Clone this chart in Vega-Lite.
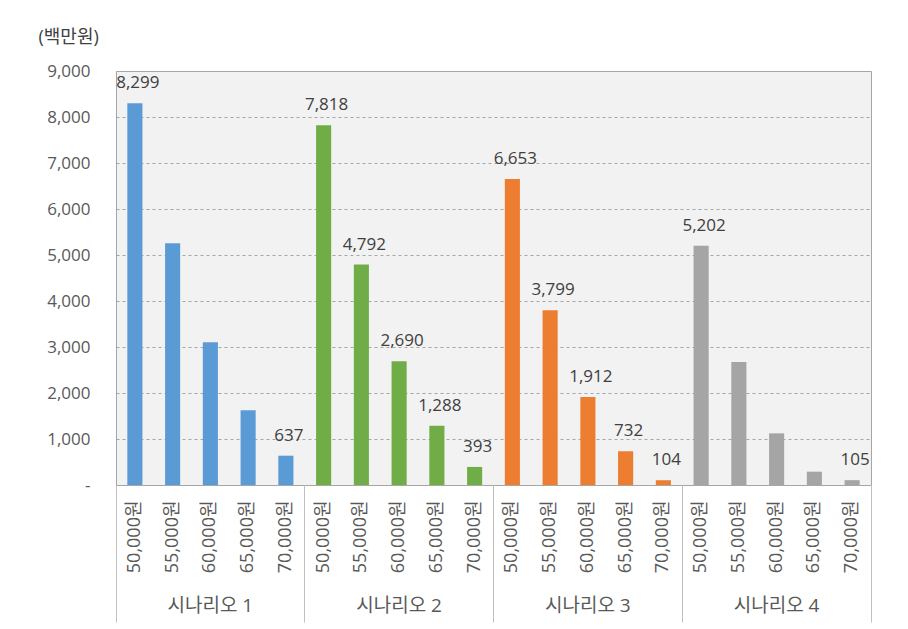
{
  "$schema": "https://vega.github.io/schema/vega-lite/v6.json",
  "width": 755,
  "height": 414,
  "autosize": {"type": "none"},
  "padding": {"left": 116, "top": 71, "right": 37, "bottom": 144},
  "background": "white",
  "config": {
    "view": {"fill": "#f2f2f2", "stroke": "#a6a6a6", "strokeWidth": 1},
    "font": "Open Sans, Noto Sans CJK KR",
    "axis": {"labelFont": "Open Sans, Noto Sans CJK KR", "titleFont": "Open Sans, Noto Sans CJK KR", "labelColor": "#595959"},
    "text": {"font": "Open Sans, Noto Sans CJK KR"}
  },
  "data": {
    "values": [
      {"scenario": "시나리오 1", "key": "시나리오 1|50,000원", "value": 8299, "labeled": true},
      {"scenario": "시나리오 1", "key": "시나리오 1|55,000원", "value": 5254, "labeled": false},
      {"scenario": "시나리오 1", "key": "시나리오 1|60,000원", "value": 3102, "labeled": false},
      {"scenario": "시나리오 1", "key": "시나리오 1|65,000원", "value": 1623, "labeled": false},
      {"scenario": "시나리오 1", "key": "시나리오 1|70,000원", "value": 637, "labeled": true},
      {"scenario": "시나리오 2", "key": "시나리오 2|50,000원", "value": 7818, "labeled": true},
      {"scenario": "시나리오 2", "key": "시나리오 2|55,000원", "value": 4792, "labeled": true},
      {"scenario": "시나리오 2", "key": "시나리오 2|60,000원", "value": 2690, "labeled": true},
      {"scenario": "시나리오 2", "key": "시나리오 2|65,000원", "value": 1288, "labeled": true},
      {"scenario": "시나리오 2", "key": "시나리오 2|70,000원", "value": 393, "labeled": true},
      {"scenario": "시나리오 3", "key": "시나리오 3|50,000원", "value": 6653, "labeled": true},
      {"scenario": "시나리오 3", "key": "시나리오 3|55,000원", "value": 3799, "labeled": true},
      {"scenario": "시나리오 3", "key": "시나리오 3|60,000원", "value": 1912, "labeled": true},
      {"scenario": "시나리오 3", "key": "시나리오 3|65,000원", "value": 732, "labeled": true},
      {"scenario": "시나리오 3", "key": "시나리오 3|70,000원", "value": 104, "labeled": true},
      {"scenario": "시나리오 4", "key": "시나리오 4|50,000원", "value": 5202, "labeled": true},
      {"scenario": "시나리오 4", "key": "시나리오 4|55,000원", "value": 2674, "labeled": false},
      {"scenario": "시나리오 4", "key": "시나리오 4|60,000원", "value": 1123, "labeled": false},
      {"scenario": "시나리오 4", "key": "시나리오 4|65,000원", "value": 290, "labeled": false},
      {"scenario": "시나리오 4", "key": "시나리오 4|70,000원", "value": 105, "labeled": true}
    ]
  },
  "layer": [
    {
      "mark": {"type": "bar", "width": {"band": 0.4}},
      "encoding": {
        "x": {
          "field": "key", "type": "nominal", "sort": null,
          "scale": {"paddingInner": 0, "paddingOuter": 0},
          "axis": {
            "orient": "bottom", "title": null, "ticks": false, "domain": false, "grid": false,
            "labelExpr": "split(datum.value, '|')[1]",
            "labelAngle": 270, "labelPadding": 15, "labelFontSize": 18
          }
        },
        "y": {
          "field": "value", "type": "quantitative",
          "scale": {"domain": [0, 9000], "nice": false, "zero": true},
          "axis": {
            "values": [0, 1000, 2000, 3000, 4000, 5000, 6000, 7000, 8000, 9000],
            "labelExpr": "datum.value == 0 ? '-' : format(datum.value, ',')",
            "grid": true, "gridDash": [3, 3], "gridColor": "#a6a6a6", "gridWidth": 1,
            "ticks": false, "domain": false, "labelPadding": 26, "labelFontSize": 17,
            "title": "(백만원)", "titleAngle": 0, "titleAlign": "left", "titleBaseline": "middle",
            "titleX": -78, "titleY": -34, "titleFontSize": 18, "titleFontWeight": "normal", "titleColor": "#404040"
          }
        },
        "color": {
          "field": "scenario", "type": "nominal",
          "scale": {"domain": ["시나리오 1", "시나리오 2", "시나리오 3", "시나리오 4"], "range": ["#5b9bd5", "#70ad47", "#ed7d31", "#a5a5a5"]},
          "legend": null
        }
      }
    },
    {
      "mark": {"type": "text", "baseline": "alphabetic", "dy": -15, "dx": 3, "fontSize": 17, "color": "#404040"},
      "encoding": {
        "x": {
          "field": "key", "type": "nominal", "sort": null,
          "axis": {
            "orient": "bottom", "title": null, "domain": false, "grid": false,
            "values": ["시나리오 1|50,000원", "시나리오 2|50,000원", "시나리오 3|50,000원", "시나리오 4|50,000원"],
            "bandPosition": 0, "ticks": true, "tickSize": 137, "tickColor": "#c0c0c0", "tickWidth": 1,
            "labelExpr": "split(datum.value, '|')[0]", "labelAngle": 0, "labelAlign": "center", "labelBaseline": "top",
            "labelOffset": 75.5, "labelPadding": -26, "labelFontSize": 19
          }
        },
        "y": {"field": "value", "type": "quantitative"},
        "text": {"condition": {"test": "datum.labeled", "field": "value", "format": ","}, "value": ""}
      }
    },
    {
      "mark": {"type": "text", "text": ""},
      "encoding": {
        "x": {
          "field": "key", "type": "nominal", "sort": null,
          "axis": {
            "orient": "bottom", "title": null, "domain": false, "grid": false, "labels": false,
            "values": ["시나리오 4|70,000원"],
            "bandPosition": 1, "ticks": true, "tickSize": 137, "tickColor": "#c0c0c0", "tickWidth": 1
          }
        },
        "y": {"field": "value", "type": "quantitative"}
      }
    }
  ],
  "resolve": {"axis": {"x": "independent"}}
}
